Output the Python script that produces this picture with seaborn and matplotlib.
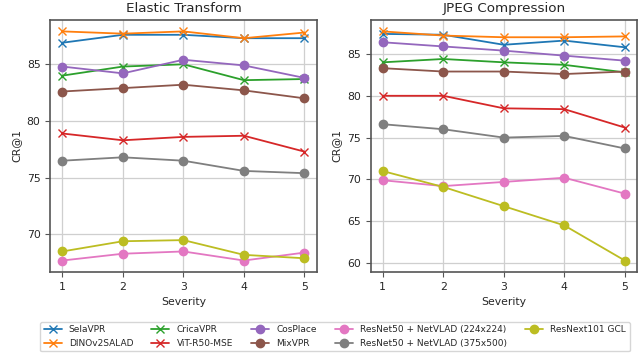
import pandas as pd
import numpy as np
import matplotlib.pyplot as plt
import seaborn as sns

severity = [1, 2, 3, 4, 5]

models = ["SelaVPR", "DINOv2SALAD", "CricaVPR", "ViT-R50-MSE", "CosPlace", "MixVPR",
          "ResNet50 + NetVLAD (224x224)", "ResNet50 + NetVLAD (375x500)", "ResNext101 GCL"]

elastic = {
    "SelaVPR": [86.9, 87.6, 87.6, 87.3, 87.3],
    "DINOv2SALAD": [87.9, 87.7, 87.9, 87.3, 87.8],
    "CricaVPR": [84.0, 84.8, 85.0, 83.6, 83.7],
    "ViT-R50-MSE": [78.9, 78.3, 78.6, 78.7, 77.3],
    "CosPlace": [84.8, 84.2, 85.4, 84.9, 83.8],
    "MixVPR": [82.6, 82.9, 83.2, 82.7, 82.0],
    "ResNet50 + NetVLAD (224x224)": [67.7, 68.3, 68.5, 67.7, 68.4],
    "ResNet50 + NetVLAD (375x500)": [76.5, 76.8, 76.5, 75.6, 75.4],
    "ResNext101 GCL": [68.5, 69.4, 69.5, 68.2, 67.9],
}

jpeg = {
    "SelaVPR": [87.4, 87.3, 86.1, 86.6, 85.8],
    "DINOv2SALAD": [87.7, 87.2, 87.0, 87.0, 87.1],
    "CricaVPR": [84.0, 84.4, 84.0, 83.7, 82.8],
    "ViT-R50-MSE": [80.0, 80.0, 78.5, 78.4, 76.2],
    "CosPlace": [86.4, 85.9, 85.4, 84.8, 84.2],
    "MixVPR": [83.3, 82.9, 82.9, 82.6, 82.9],
    "ResNet50 + NetVLAD (224x224)": [69.9, 69.2, 69.7, 70.2, 68.3],
    "ResNet50 + NetVLAD (375x500)": [76.6, 76.0, 75.0, 75.2, 73.7],
    "ResNext101 GCL": [71.0, 69.1, 66.8, 64.5, 60.3],
}

sns.set_style("ticks", {"axes.grid": True})
plt.rcParams["font.family"] = ["DejaVu Sans"]

colors = sns.color_palette("tab10", 9)

fig, axes = plt.subplots(1, 2, figsize=(6.44, 3.56), dpi=100)

yticks = [[70, 75, 80, 85], [60, 65, 70, 75, 80, 85]]

for ax, data, title, yt in zip(axes, [elastic, jpeg], ["Elastic Transform", "JPEG Compression"], yticks):
    for i, m in enumerate(models):
        mk = "x" if i < 4 else "o"
        sns.lineplot(x=severity, y=data[m], color=colors[i], marker=mk,
                     markersize=6, markeredgewidth=1, markeredgecolor=colors[i],
                     linewidth=1.3, label=m, ax=ax, legend=False)
    ax.set_title(title, fontsize=9.7)
    ax.set_xticks(severity)
    ax.set_yticks(yt)
    ax.tick_params(labelsize=7.8, color="#555555", length=3.5)
    ax.set_xlabel("Severity", fontsize=7.8)
    ax.set_ylabel("CR@1", fontsize=7.8)
    ax.grid(True, color="#cfcfcf", linewidth=0.9)
    for sp in ax.spines.values():
        sp.set_color("#555555")
        sp.set_linewidth(1.2)

handles, labels = axes[0].get_legend_handles_labels()
fig.legend(handles, labels, loc="lower center", ncol=5, fontsize=6.5,
           bbox_to_anchor=(0.52, 0.0), handlelength=2, columnspacing=2.0)

fig.subplots_adjust(left=0.078, right=0.989, top=0.944, bottom=0.236, wspace=0.203)
fig.savefig("out.png", dpi=100)
